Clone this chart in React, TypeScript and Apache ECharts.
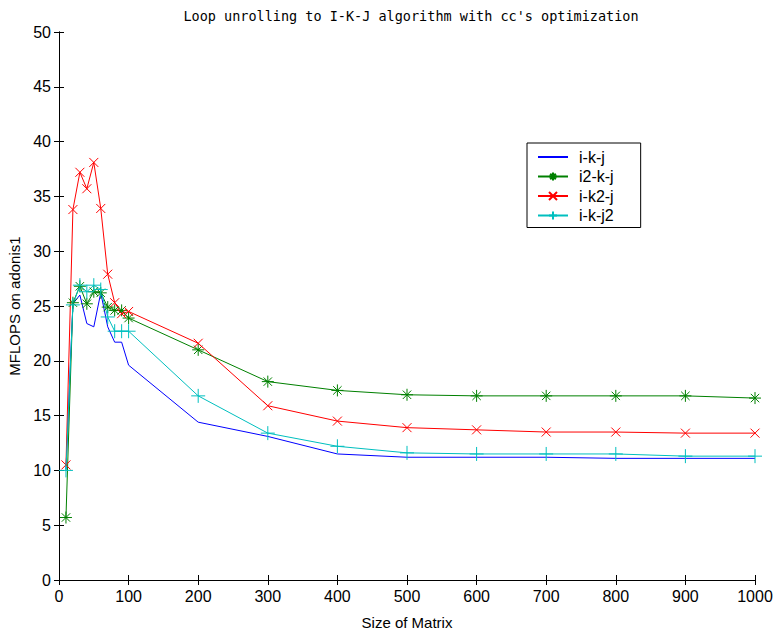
import React, { useEffect, useRef } from "react";
import * as echarts from "echarts";

const sizes = [10, 20, 30, 40, 50, 60, 70, 80, 90, 100, 200, 300, 400, 500, 600, 700, 800, 900, 1000];
const ikj = [10.1, 25.2, 26.0, 23.4, 23.1, 26.2, 23.1, 21.7, 21.7, 19.6, 14.4, 13.1, 11.5, 11.2, 11.2, 11.2, 11.1, 11.1, 11.1];
const i2kj = [5.7, 25.3, 26.8, 25.2, 26.3, 26.2, 24.9, 24.6, 24.6, 23.9, 21.0, 18.1, 17.3, 16.9, 16.8, 16.8, 16.8, 16.8, 16.6];
const ik2j = [10.5, 33.8, 37.2, 35.7, 38.1, 33.9, 27.9, 25.3, 24.3, 24.5, 21.6, 15.9, 14.5, 13.9, 13.7, 13.5, 13.5, 13.4, 13.4];
const ikj2 = [10.0, 25.1, 26.9, 26.3, 26.9, 26.5, 24.0, 22.7, 22.7, 22.7, 16.8, 13.4, 12.2, 11.6, 11.5, 11.5, 11.5, 11.3, 11.3];

const seriesNames = ["i-k-j", "i2-k-j", "i-k2-j", "i-k-j2"];

const STAR = "path://M0,-1L0,1M-1,0L1,0M-0.7,-0.7L0.7,0.7M-0.7,0.7L0.7,-0.7";
const CROSS = "path://M-1,-1L1,1M-1,1L1,-1";
const PLUS = "path://M0,-1L0,1M-1,0L1,0";

const FONT = "'Liberation Sans', Arial, sans-serif";
const MONO = "'DejaVu Sans Mono', 'Liberation Mono', monospace";

function pairs(vals: number[]) {
  return sizes.map((s, i) => [s, vals[i]]);
}

export default function App() {
  const ref = useRef<HTMLDivElement>(null);
  useEffect(() => {
    document.body.style.margin = "0";
    const chart = echarts.init(ref.current!, null, { renderer: "svg" });
    const mk = (name: string, vals: number[], color: string, symbol: string, symbolSize: number) => ({
      name,
      type: "line",
      data: pairs(vals),
      symbol: symbol === "none" ? "none" : symbol,
      showSymbol: symbol !== "none",
      symbolSize,
      lineStyle: { color, width: 1 },
      itemStyle: { color, borderColor: color, borderWidth: 1 },
      emphasis: { disabled: true },
    });
    const axisLine = { show: true, lineStyle: { color: "#000", width: 1 } };
    chart.setOption({
      animation: false,
      backgroundColor: "#fff",
      title: {
        text: "Loop unrolling to I-K-J algorithm with cc's optimization",
        left: 406,
        top: 4,
        textAlign: "center",
        textStyle: { fontFamily: MONO, fontSize: 13.5, fontWeight: "normal", color: "#000" },
      },
      legend: {
        data: [
          { name: seriesNames[0], itemStyle: { opacity: 0 } },
          { name: seriesNames[1] },
          { name: seriesNames[2] },
          { name: seriesNames[3] },
        ],
        orient: "vertical",
        left: 527,
        top: 143,
        padding: [6, 27, 4, 10],
        itemGap: 3.5,
        itemWidth: 30,
        itemHeight: 10,
        borderColor: "#000",
        borderWidth: 1,
        backgroundColor: "#fff",
        textStyle: { fontFamily: FONT, fontSize: 16, color: "#000", padding: [0, 0, 0, 6] },
      },
      grid: { left: 59, right: 18, top: 32, bottom: 55, containLabel: false, outerBoundsMode: "none" },
      xAxis: [
        {
          type: "value",
          min: 0,
          max: 1000,
          interval: 100,
          name: "Size of Matrix",
          nameLocation: "middle",
          nameGap: 35,
          nameTextStyle: { fontFamily: FONT, fontSize: 15, color: "#000" },
          axisLine,
          axisTick: { inside: true, length: 5, lineStyle: { color: "#000" } },
          axisLabel: { fontFamily: FONT, fontSize: 16, color: "#000", margin: 8, formatter: (v: number) => String(v) },
          splitLine: { show: false },
        },
        {
          type: "value",
          position: "top",
          min: 0,
          max: 1000,
          interval: 100,
          axisLine,
          axisTick: { inside: true, length: 5, lineStyle: { color: "#000" } },
          axisLabel: { show: false },
          splitLine: { show: false },
        },
      ],
      yAxis: [
        {
          type: "value",
          min: 0,
          max: 50,
          interval: 5,
          name: "MFLOPS on adonis1",
          nameLocation: "middle",
          nameGap: 35,
          nameTextStyle: { fontFamily: FONT, fontSize: 15, color: "#000" },
          axisLine,
          axisTick: { inside: true, length: 5, lineStyle: { color: "#000" } },
          axisLabel: { fontFamily: FONT, fontSize: 16, color: "#000", margin: 8 },
          splitLine: { show: false },
        },
        {
          type: "value",
          position: "right",
          min: 0,
          max: 50,
          interval: 5,
          axisLine,
          axisTick: { inside: true, length: 5, lineStyle: { color: "#000" } },
          axisLabel: { show: false },
          splitLine: { show: false },
        },
      ],
      series: [
        mk(seriesNames[0], ikj, "#0000ff", "none", 0),
        mk(seriesNames[1], i2kj, "#008000", STAR, 12),
        mk(seriesNames[2], ik2j, "#ff0000", CROSS, 9),
        mk(seriesNames[3], ikj2, "#00bfbf", PLUS, 14),
      ],
    });
    return () => chart.dispose();
  }, []);
  return <div ref={ref} style={{ position: "fixed", left: 0, top: 0, width: 773, height: 635 }} />;
}
